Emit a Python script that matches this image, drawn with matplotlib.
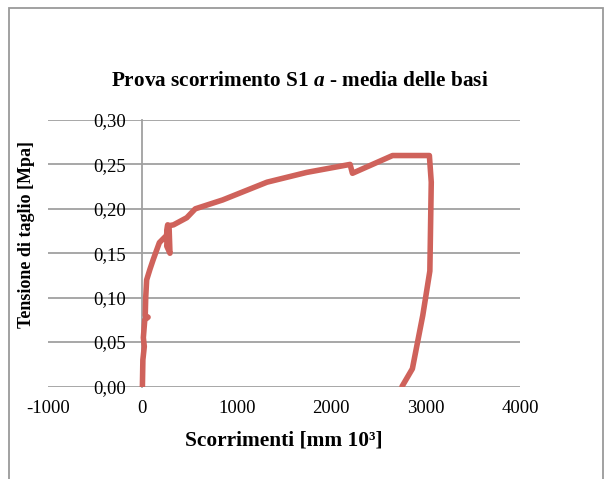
import matplotlib
matplotlib.use("Agg")
import matplotlib.pyplot as plt
from matplotlib.patches import Rectangle

# Scorrimenti [mm 10^3] e tensione di taglio [MPa]
scorrimenti = [0, 5, 20, 10, 25, 60, 30, 35, 45, 80, 115, 180, 255, 268, 258,
               292, 282, 330, 470, 560, 850, 1320, 1740, 2200, 2225, 2650,
               3040, 3060, 3045, 2970, 2860, 2750]
tensione = [0.0, 0.03, 0.045, 0.055, 0.075, 0.078, 0.08, 0.10, 0.12, 0.132,
            0.143, 0.162, 0.17, 0.182, 0.158, 0.15, 0.181, 0.182, 0.19, 0.20,
            0.21, 0.23, 0.241, 0.25, 0.24, 0.26, 0.26, 0.23, 0.13, 0.08,
            0.02, 0.0]

x_ticks = [-1000, 0, 1000, 2000, 3000, 4000]
y_ticks = [0.0, 0.05, 0.10, 0.15, 0.20, 0.25, 0.30]

plt.rcParams['font.family'] = ['Liberation Serif', 'DejaVu Serif']
plt.rcParams['axes.unicode_minus'] = False
plt.rcParams['mathtext.fontset'] = 'custom'
plt.rcParams['mathtext.it'] = 'Liberation Serif:italic:bold'
plt.rcParams['mathtext.rm'] = 'Liberation Serif:bold'

W, H = 604, 479
fig = plt.figure(figsize=(W / 100, H / 100), dpi=100)

# cornice grigia del grafico (tagliata in basso come nell'originale)
fig.patches.append(Rectangle((8.5 / W, -0.05), (602.5 - 8.5) / W, 1.05 - 7.5 / H,
                             transform=fig.transFigure, fill=False,
                             edgecolor='#9a9a9a', linewidth=1.3))

grey = '#a0a0a0'
ax = fig.add_axes([48 / W, 1 - 386.5 / H, (520 - 48) / W, (386.5 - 120) / H])
ax.set_xlim(-1000, 4000)
ax.set_ylim(0, 0.30)
ax.set_xticks(x_ticks)
ax.set_yticks(y_ticks)
ax.set_yticklabels([("%.2f" % v).replace('.', ',') for v in y_ticks])
ax.yaxis.grid(True, color=grey, linewidth=1.3)
ax.set_axisbelow(True)
for s in ['top', 'right', 'bottom']:
    ax.spines[s].set_visible(False)
ax.spines['left'].set_position(('data', 0))
ax.spines['left'].set_color(grey)
ax.spines['left'].set_linewidth(1.3)
ax.tick_params(axis='both', length=0, labelsize=13.5, colors='black')
ax.tick_params(axis='y', pad=11.5)
ax.tick_params(axis='x', pad=10)

ax.plot(scorrimenti, tensione, color='#cf625b', linewidth=4,
        solid_joinstyle='round', solid_capstyle='round', zorder=3)

fig.text(300 / W, 1 - 81 / H, 'Prova scorrimento S1 $\\mathit{a}$ - media delle basi',
         ha='center', va='center', fontsize=15.3, fontweight='bold')
fig.text(284 / W, 1 - 440 / H, 'Scorrimenti [mm 10³]', ha='center', va='center',
         fontsize=15.4, fontweight='bold')
fig.text(27 / W, 1 - 235 / H, 'Tensione di taglio [Mpa]', ha='center', va='center',
         rotation=90, fontsize=13, fontweight='bold')

fig.savefig('out.png', dpi=100)
